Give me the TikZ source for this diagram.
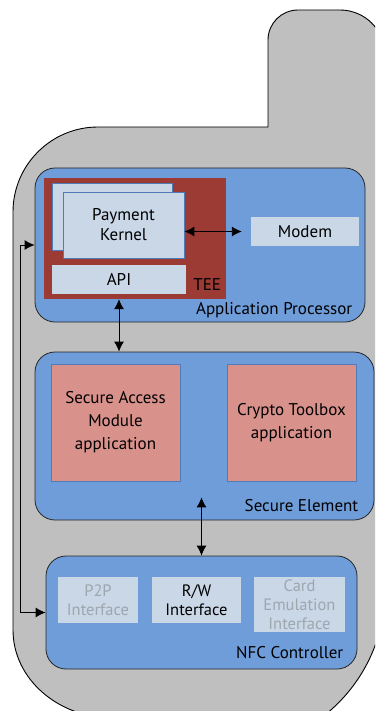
\documentclass[tikz,border=0pt]{standalone}
\usepackage{fontspec}
\setmainfont{PT Sans}
\usetikzlibrary{arrows.meta,calc,positioning}
\definecolor{phonegray}{HTML}{BFBFBF}
\definecolor{blockblue}{HTML}{6F9DDA}
\definecolor{teered}{HTML}{9C3A34}
\definecolor{boxlight}{HTML}{C9D7E7}
\definecolor{apppink}{HTML}{D9918C}
\definecolor{edgeblue}{HTML}{4F7BB8}
\definecolor{dimtext}{HTML}{9EA6AE}
\tikzset{
    block/.style={draw=black!85, fill=blockblue, rounded corners=20pt, line width=0.8pt, inner sep=0pt},
    card/.style={draw=edgeblue, fill=boxlight, line width=0.8pt, align=center, inner sep=0pt},
    plainbox/.style={fill=boxlight, align=center, inner sep=0pt},
    portbox/.style={plainbox, font=\fontsize{16.5}{19}\selectfont},
    appbox/.style={draw=edgeblue, fill=apppink, line width=0.8pt, align=center, inner sep=0pt, font=\fontsize{17}{23}\selectfont},
    tag/.style={anchor=base east, inner sep=0pt},
    link/.style={{Latex[length=10pt,width=10pt]}-{Latex[length=10pt,width=10pt]}, line width=0.9pt},
}

\begin{document}
\begin{tikzpicture}[x=1pt, y=-1pt, font=\fontsize{17}{20}\selectfont]
            \useasboundingbox (0,0) rectangle (375,711);
            \clip (0,0) rectangle (375,711);
            \draw[fill=phonegray, line width=0.9pt] (13,630) -- (13,212) arc[start angle=180, end angle=270, radius=85] -- (268,127) -- (268,40) arc[start angle=180, end angle=270, radius=30] -- (340,10) arc[start angle=270, end angle=360, radius=45] -- (385,590) arc[start angle=0, end angle=90, radius=160] -- (113,718) arc[start angle=90, end angle=180, x radius=100, y radius=88] -- cycle;

            \node[block, minimum width=330, minimum height=154] (ap) at (200,245) {};
            \node[fill=teered, inner sep=0pt, minimum width=182, minimum height=121] (tee) at (135,238.5) {};
            \node[card, minimum width=120, minimum height=67] (pkback) at (112,216.5) {};
            \node[card, minimum width=121, minimum height=66] (pk) at (123.5,225) {Payment\\Kernel};
            \node[plainbox, minimum width=134, minimum height=29] (api) at (119,279.5) {API};
            \node[tag] (teelabel) at ($(tee.south east)+(-5,-9)$) {TEE};
            \node[plainbox, minimum width=108, minimum height=29] (modem) at (305,231.5) {Modem};
            \node[tag] (aplabel) at ($(ap.south east)+(-13,-8)$) {Application Processor};

            \node[block, minimum width=339, minimum height=168] (se) at (204.5,436) {};
            \node[appbox, minimum width=129, minimum height=117] (sam) at (115.5,422.5) {Secure Access\\Module\\application};
            \node[appbox, minimum width=129, minimum height=117] (crypto) at (291.5,422.5) {Crypto Toolbox\\application};
            \node[tag] (selabel) at ($(se.south east)+(-16,-9)$) {Secure Element};

            \node[block, minimum width=311, minimum height=113] (nfc) at (201.5,612.5) {};
            \node[portbox, text=dimtext, minimum width=80, minimum height=46] (p2p) at (98,600) {P2P\\Interface};
            \node[portbox, minimum width=89, minimum height=46] (rw) at (196.5,600) {R/W\\Interface};
            \node[portbox, text=dimtext, minimum width=91, minimum height=55] (card) at (299.5,604.5) {Card\\Emulation\\Interface};
            \node[tag] (nfclabel) at ($(nfc.south east)+(-14,-11)$) {NFC Controller};

            \coordinate (seport) at ($(nfc.north |- se.south)+(0,-23)$);
            \draw[link, shorten >=9pt] (pk.east |- modem.west) -- (modem.west);
            \draw[link] (api.south |- tee.south) -- (api.south |- se.north);
            \draw[link] (seport) -- (nfc.north);
            \draw[link] (ap.west) -- ++(-14,0) |- (nfc.west);
        \end{tikzpicture}
\end{document}
